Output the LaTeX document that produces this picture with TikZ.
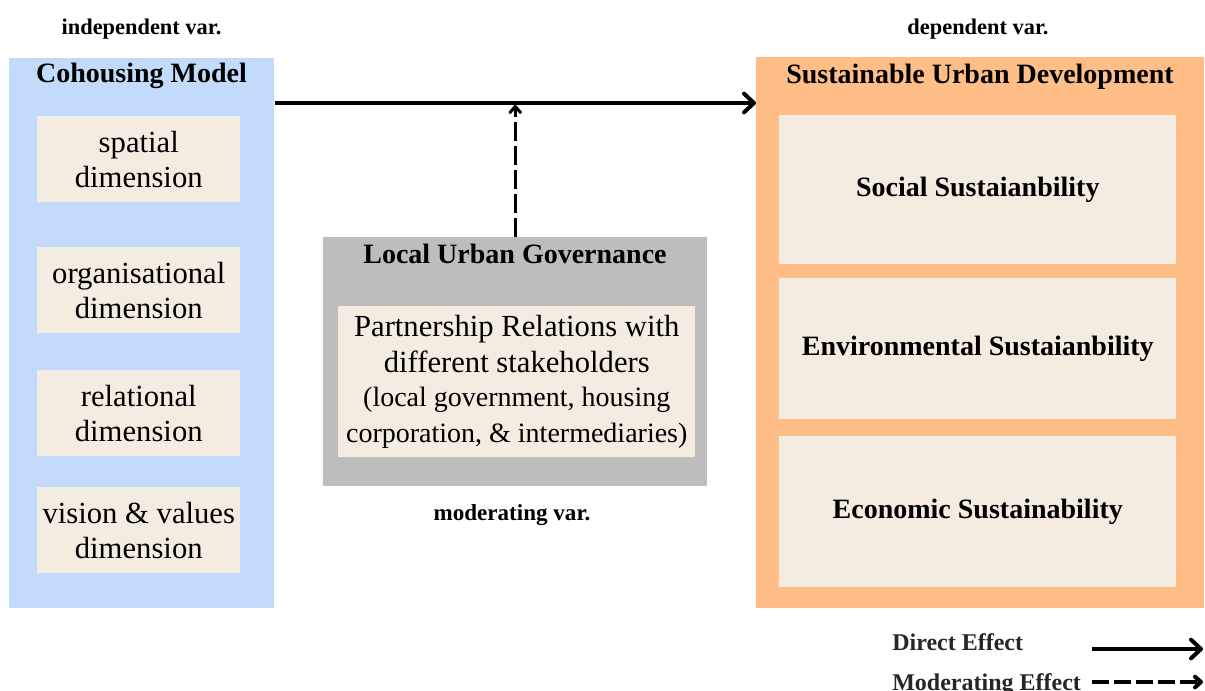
\documentclass[tikz,border=0pt]{standalone}
\usepackage{fontspec}
\setmainfont{Liberation Serif}
\usetikzlibrary{arrows.meta,calc}

\definecolor{indepblue}{HTML}{C2DAFC}
\definecolor{cream}{HTML}{F4EBE1}
\definecolor{deporange}{HTML}{FFBE87}
\definecolor{govgray}{HTML}{BDBDBD}

\begin{document}
\begin{tikzpicture}[
  x=0.75pt, y=-0.75pt,
  panel/.style={rectangle, inner sep=0pt, anchor=north west},
  facet/.style={rectangle, inner sep=0pt, anchor=north west, fill=cream,
    align=center, font=\fontsize{23}{26.5}\selectfont},
  headline/.style={anchor=base, inner sep=0pt, font=\fontsize{21}{25}\selectfont\bfseries},
  varlabel/.style={anchor=base, inner sep=0pt, font=\fontsize{16.8}{20}\selectfont\bfseries},
  outcome/.style={facet, font=\fontsize{21}{25}\selectfont\bfseries},
  legendtext/.style={anchor=base west, inner sep=0pt, text=black!85,
    font=\fontsize{18}{21}\selectfont\bfseries},
  direct/.style={line width=3pt, -{Straight Barb[length=7.5pt,width=14pt,line cap=round,line join=round]}},
  moderating/.style={line width=2.3pt, dash pattern=on 14pt off 4pt,
    -{Straight Barb[length=4.5pt,width=8pt,line cap=round,line join=round]}},
]
\useasboundingbox (0,0) rectangle (1205,690);

% variable captions
\node[varlabel] (indep) at (141.5,34) {independent var.};
\node[varlabel] (dep) at (978,34) {dependent var.};

% independent variable: cohousing model
\node[panel, fill=indepblue, minimum width=265*0.75pt, minimum height=550*0.75pt] (lbox) at (9,58) {};
\node[headline] (ltitle) at (141.5,82) {Cohousing Model};
\node[facet, minimum width=203*0.75pt, minimum height=86*0.75pt] (d1) at (37,116) {spatial\\dimension};
\node[facet, minimum width=203*0.75pt, minimum height=86*0.75pt] (d2) at (37,247) {organisational\\dimension};
\node[facet, minimum width=203*0.75pt, minimum height=86*0.75pt] (d3) at (37,370) {relational\\dimension};
\node[facet, minimum width=203*0.75pt, minimum height=86*0.75pt] (d4) at (37,487) {vision \& values\\dimension};

% dependent variable: sustainable urban development
\node[panel, fill=deporange, minimum width=448*0.75pt, minimum height=551*0.75pt] (rbox) at (756,57) {};
\node[headline] (rtitle) at (980,83) {Sustainable Urban Development};
\node[outcome, minimum width=397*0.75pt, minimum height=149*0.75pt] (o1) at (779,115) {Social Sustaianbility};
\node[outcome, minimum width=397*0.75pt, minimum height=141*0.75pt] (o2) at (779,278) {Environmental Sustaianbility};
\node[outcome, minimum width=397*0.75pt, minimum height=151*0.75pt] (o3) at (779,436) {Economic Sustainability};

% moderating variable: local urban governance
\node[panel, fill=govgray, minimum width=384*0.75pt, minimum height=249*0.75pt] (gbox) at (323,237) {};
\node[headline] (gtitle) at (515,263) {Local Urban Governance};
\node[facet, minimum width=357*0.75pt, minimum height=151*0.75pt,
  font=\fontsize{23}{27}\selectfont] (ginner) at (338,306)
  {Partnership Relations with\\different stakeholders\\[-2pt]
   {\fontsize{21}{24}\selectfont (local government, housing}\\
   {\fontsize{21}{24}\selectfont corporation, \& intermediaries)}};
\node[varlabel, font=\fontsize{17.3}{20}\selectfont\bfseries] (modlabel) at (512,520) {moderating var.};

% effects
\coordinate (src) at ($(lbox.north east)+(0,45)$);
\coordinate (dst) at ($(rbox.north west)+(0,46)$);
\draw[direct] (src) -- (dst);
\draw[moderating] (gbox.north) -- ($(gbox.north |- src)+(0,2)$);

% legend
\node[legendtext] (lgdirect) at (892,650) {Direct Effect};
\node[legendtext] (lgmod) at (892,690) {Moderating Effect};
\coordinate (ld1) at (1092,649);
\coordinate (ld2) at (1203,649);
\coordinate (lm1) at (1092,682);
\coordinate (lm2) at (1203,682);
\draw[direct, line width=3pt] (ld1) -- (ld2);
\draw[moderating, line width=3pt, dash pattern=on 12.5pt off 4pt] (lm1) -- (lm2);
\end{tikzpicture}
\end{document}
